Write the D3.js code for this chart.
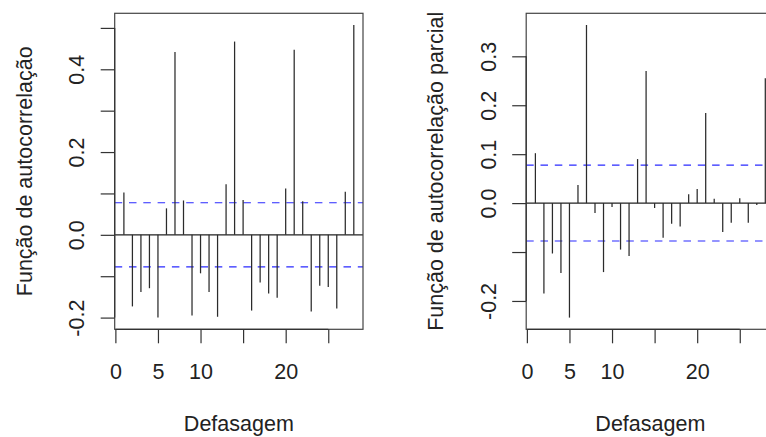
<!DOCTYPE html>
<html>
<head>
<meta charset="utf-8">
<script src="https://cdn.jsdelivr.net/npm/d3@7"></script>
<style>
  html, body { margin: 0; padding: 0; background: #fff; }
  svg { display: block; }
  text { font-family: "Liberation Sans", Arial, Helvetica, sans-serif; fill: #222; }
</style>
</head>
<body>
<svg id="chart" width="766" height="437"></svg>
<script>
// ---- data ----
const lags = [1, 2, 3, 4, 5, 6, 7, 8, 9, 10, 11, 12, 13, 14, 15, 16, 17, 18, 19, 20, 21, 22, 23, 24, 25, 26, 27, 28];
const acfValues = [0.102, -0.173, -0.138, -0.129, -0.200, 0.064, 0.442, 0.083, -0.195, -0.093, -0.138, -0.198, 0.122, 0.467,
                   0.084, -0.183, -0.115, -0.142, -0.152, 0.112, 0.447, 0.081, -0.185, -0.123, -0.126, -0.178, 0.104, 0.507];
const pacfValues = [0.102, -0.185, -0.103, -0.143, -0.234, 0.037, 0.364, -0.020, -0.141, -0.008, -0.095, -0.108, 0.090, 0.270,
                    -0.010, -0.071, -0.042, -0.048, 0.018, 0.029, 0.184, 0.009, -0.059, -0.040, 0.010, -0.040, -0.004, 0.255];
const confLimit = 0.0775;
const xTicks = [0, 5, 10, 15, 20, 25];
const xTickLabels = [0, 5, 10, 20];
const acfYTicks = [-0.2, -0.1, 0.0, 0.1, 0.2, 0.3, 0.4, 0.5];
const acfYLabels = [-0.2, 0.0, 0.2, 0.4];
const pacfYTicks = [-0.2, -0.1, 0.0, 0.1, 0.2, 0.3];
const pacfYLabels = [-0.2, 0.0, 0.1, 0.2, 0.3];
const xTitle = "Defasagem";
const acfTitle = "Função de autocorrelação";
const pacfTitle = "Função de autocorrelação parcial";

// ---- drawing ----
const svg = d3.select("#chart");
const FONT = 21.5;
const FAMILY = '"Liberation Sans", Arial, Helvetica, sans-serif';
const plotTop = 13.3, plotBottom = 329.3;

function rExtent(vals) {
  const lo = d3.min(vals), hi = d3.max(vals);
  const ext = (hi - lo) * 0.04;
  return [lo - ext, hi + ext];
}

function panel(left, right, values, yTicks, yLabels, ytitle) {
  const g = svg.append("g");
  const x = d3.scaleLinear().domain(rExtent(lags)).range([left, right]);
  const y = d3.scaleLinear().domain(rExtent(values.concat([confLimit, -confLimit]))).range([plotBottom, plotTop]);

  // dashed confidence limits
  [confLimit, -confLimit].forEach(c => {
    g.append("line")
      .attr("x1", left).attr("x2", right)
      .attr("y1", y(c)).attr("y2", y(c))
      .attr("stroke", "#2a2aff").attr("stroke-width", 1.2)
      .attr("stroke-dasharray", "7.5,6.8");
  });

  // zero line
  g.append("line")
    .attr("x1", left).attr("x2", right)
    .attr("y1", y(0)).attr("y2", y(0))
    .attr("stroke", "#222").attr("stroke-width", 1.2);

  // spikes
  g.selectAll("line.spike").data(lags).enter().append("line")
    .attr("class", "spike")
    .attr("x1", d => x(d)).attr("x2", d => x(d))
    .attr("y1", y(0)).attr("y2", (d, i) => y(values[i]))
    .attr("stroke", "#2b2b2b").attr("stroke-width", 1.25);

  // box
  g.append("rect")
    .attr("x", left).attr("y", plotTop)
    .attr("width", right - left).attr("height", plotBottom - plotTop)
    .attr("fill", "none").attr("stroke", "#444").attr("stroke-width", 1.2);

  // x axis
  const xAxis = d3.axisBottom(x).tickValues(xTicks).tickSize(14).tickSizeOuter(0)
    .tickFormat(d => xTickLabels.includes(d) ? d3.format("d")(d) : "");
  const gx = g.append("g").attr("transform", `translate(0,${plotBottom})`).call(xAxis);
  gx.select(".domain").remove();
  gx.selectAll(".tick line").attr("stroke", "#333").attr("stroke-width", 1.2);
  gx.selectAll(".tick text").attr("y", 49.7).attr("dy", 0)
    .style("font-size", FONT + "px").attr("fill", "#222").style("font-family", FAMILY);
  gx.append("line")
    .attr("x1", x(xTicks[0])).attr("x2", x(xTicks[xTicks.length - 1]))
    .attr("y1", 0).attr("y2", 0).attr("stroke", "#333").attr("stroke-width", 1.2);

  // y axis
  const yAxis = d3.axisLeft(y).tickValues(yTicks).tickSize(14).tickSizeOuter(0)
    .tickFormat(d => yLabels.some(v => Math.abs(v - d) < 1e-9) ? d3.format(".1f")(d).replace("−", "-") : "");
  const gy = g.append("g").attr("transform", `translate(${left},0)`).call(yAxis);
  gy.select(".domain").remove();
  gy.selectAll(".tick line").attr("stroke", "#333").attr("stroke-width", 1.2);
  gy.selectAll(".tick text")
    .attr("transform", "rotate(-90)")
    .attr("x", 0).attr("y", -30.5).attr("dy", 0)
    .attr("text-anchor", "middle")
    .style("font-size", FONT + "px").attr("fill", "#222").style("font-family", FAMILY);
  gy.append("line")
    .attr("x1", 0).attr("x2", 0)
    .attr("y1", y(yTicks[0])).attr("y2", y(yTicks[yTicks.length - 1]))
    .attr("stroke", "#333").attr("stroke-width", 1.2);

  // titles
  g.append("text")
    .attr("x", (left + right) / 2).attr("y", plotBottom + 101.2)
    .attr("text-anchor", "middle").style("font-size", FONT + "px")
    .text(xTitle);
  g.append("text")
    .attr("transform", `translate(${left - 83},${(plotTop + plotBottom) / 2}) rotate(-90)`)
    .attr("text-anchor", "middle").style("font-size", FONT + "px")
    .text(ytitle);
}

panel(114.7, 363, acfValues, acfYTicks, acfYLabels, acfTitle);
panel(526.2, 774.5, pacfValues, pacfYTicks, pacfYLabels, pacfTitle);
</script>
</body>
</html>
